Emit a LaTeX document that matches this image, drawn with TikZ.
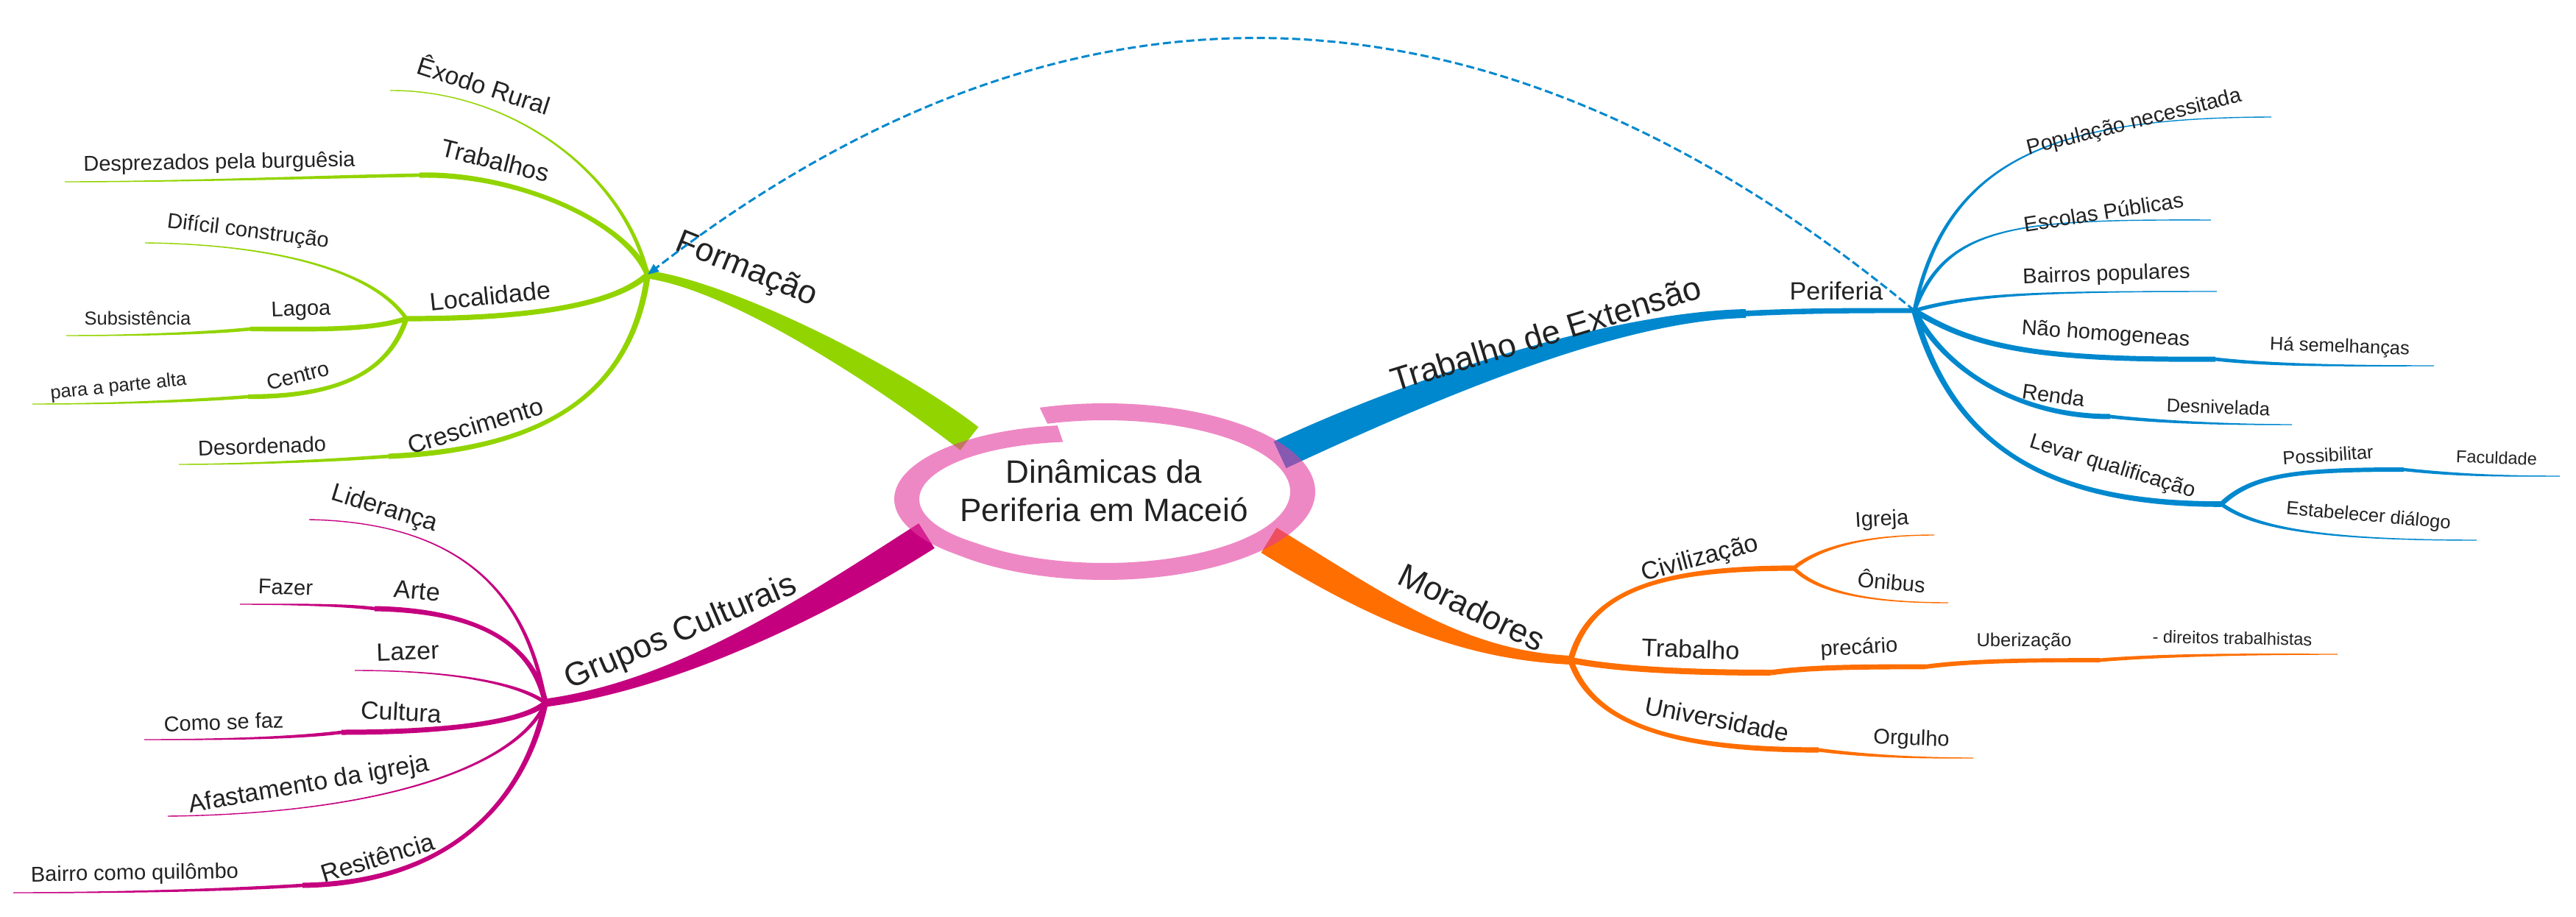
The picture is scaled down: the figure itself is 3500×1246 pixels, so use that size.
\documentclass[tikz,border=0pt]{standalone}
\usepackage{fontspec}
\setmainfont{Liberation Sans}
\usetikzlibrary{calc,arrows.meta}
\definecolor{cgreen}{RGB}{146,212,0}
\definecolor{cblue}{RGB}{0,136,206}
\definecolor{corange}{RGB}{255,110,0}
\definecolor{cmag}{RGB}{197,0,127}
\definecolor{cring}{RGB}{227,58,158}
\definecolor{ctext}{RGB}{34,34,34}
% tapered branch: start, control1, control2, end, half width start, half width end, colour
\newcommand{\brch}[7]{%
  \path ($(#1)!#5!90:(#2)$) coordinate (ba) ($(#1)!#5!-90:(#2)$) coordinate (bb)
        ($(#4)!#6!-90:(#3)$) coordinate (bc) ($(#4)!#6!90:(#3)$) coordinate (bd);
  \fill[#7] (ba) .. controls ($(#2)+(ba)-(#1)$) and ($(#3)+(bc)-(#4)$) .. (bc)
     -- (bd) .. controls ($(#3)+(bd)-(#4)$) and ($(#2)+(bb)-(#1)$) .. (bb) -- cycle;}
\begin{document}
\begin{tikzpicture}[x=1pt,y=-1pt,
  lab/.style={text=ctext, inner sep=0pt, anchor=center},
  L0/.style={lab, font=\fontsize{44}{52}\selectfont, align=center},
  L1/.style={lab, font=\fontsize{45}{50}\selectfont},
  L2/.style={lab, font=\fontsize{34}{40}\selectfont},
  L3/.style={lab, font=\fontsize{29}{34}\selectfont},
  L4/.style={lab, font=\fontsize{25.5}{30}\selectfont},
  L5/.style={lab, font=\fontsize{23.5}{28}\selectfont},
  relation/.style={cblue, line width=3pt, dash pattern=on 11pt off 5pt, -{Triangle[length=15pt,width=12pt]}}]
\useasboundingbox (0,0) rectangle (3500,1246);
\fill[white] (0,0) rectangle (3500,1246);
% ---------- junctions ----------
\coordinate (RF) at (1317,596);
\coordinate (JF) at (880,373);
\coordinate (FT) at (570,238);
\coordinate (JL) at (552,433);
\coordinate (FLa) at (340,447);
\coordinate (FCe) at (337,539);
\coordinate (FCr) at (528,620);
\coordinate (RB) at (1739,618);
\coordinate (BK) at (2372,426);
\coordinate (JP) at (2601,422);
\coordinate (BNH) at (3010,488);
\coordinate (BRe) at (2867,566);
\coordinate (JQ) at (3018,685);
\coordinate (BPo) at (3266,638);
\coordinate (RO) at (1724,734);
\coordinate (JM) at (2134,897);
\coordinate (JC) at (2437,772);
\coordinate (OT) at (2406,914);
\coordinate (OP) at (2616,906);
\coordinate (OU) at (2853,897);
\coordinate (OV) at (2471,1019);
\coordinate (RG) at (1259,728);
\coordinate (JG) at (741,955);
\coordinate (GA) at (509,827);
\coordinate (GC) at (464,995);
\coordinate (GR) at (411,1203);
% ---------- green: Formação ----------
\brch{RF}{1220,520}{1000,390}{JF}{20pt}{5.5pt}{cgreen}
\brch{JF}{845,230}{690,122}{530,123}{2.6pt}{0.7pt}{cgreen}
\brch{JF}{850,300}{700,235}{FT}{4pt}{3.6pt}{cgreen}
\brch{FT}{450,240}{250,247}{88,247}{2.4pt}{0.7pt}{cgreen}
\brch{JF}{840,410}{740,433}{JL}{4pt}{3.6pt}{cgreen}
\brch{JL}{510,370}{380,332}{197,330}{2.6pt}{0.7pt}{cgreen}
\brch{JL}{500,450}{420,447}{FLa}{3.4pt}{3.2pt}{cgreen}
\brch{FLa}{280,453}{180,456}{90,456}{2.3pt}{0.7pt}{cgreen}
\brch{JL}{530,500}{470,539}{FCe}{3.4pt}{3.2pt}{cgreen}
\brch{FCe}{260,545}{150,549}{44,549}{2.3pt}{0.7pt}{cgreen}
\brch{JF}{860,520}{760,610}{FCr}{4pt}{3.6pt}{cgreen}
\brch{FCr}{450,626}{330,631}{243,631}{2.4pt}{0.7pt}{cgreen}
% ---------- blue: Trabalho de Extensão ----------
\brch{RB}{1950,520}{2200,430}{BK}{20pt}{6pt}{cblue}
\brch{BK}{2450,422}{2520,422}{JP}{3.8pt}{3.4pt}{cblue}
\brch{JP}{2645,210}{2800,160}{3086,159}{2.6pt}{0.7pt}{cblue}
\brch{JP}{2645,305}{2740,298}{3004,299}{2.6pt}{0.7pt}{cblue}
\brch{JP}{2680,400}{2760,396}{3012,396}{2.6pt}{0.7pt}{cblue}
\brch{JP}{2680,470}{2760,490}{BNH}{3.8pt}{3.5pt}{cblue}
\brch{BNH}{3090,497}{3200,497}{3307,497}{2.4pt}{0.7pt}{cblue}
\brch{JP}{2640,500}{2740,566}{BRe}{3.8pt}{3.5pt}{cblue}
\brch{BRe}{2940,574}{3030,577}{3114,577}{2.4pt}{0.7pt}{cblue}
\brch{JP}{2655,620}{2800,685}{JQ}{4pt}{3.8pt}{cblue}
\brch{JQ}{3060,645}{3120,638}{BPo}{3.3pt}{3pt}{cblue}
\brch{BPo}{3340,646}{3400,647}{3478,647}{2.2pt}{0.7pt}{cblue}
\brch{JQ}{3060,715}{3140,734}{3365,734}{2.6pt}{0.7pt}{cblue}
% ---------- orange: Moradores ----------
\brch{RO}{1880,830}{1990,890}{JM}{20pt}{6pt}{corange}
\brch{JM}{2160,800}{2260,772}{JC}{4pt}{3.6pt}{corange}
\brch{JC}{2470,745}{2530,727}{2628,727}{2.6pt}{0.7pt}{corange}
\brch{JC}{2470,805}{2540,819}{2647,819}{2.6pt}{0.7pt}{corange}
\brch{JM}{2200,910}{2300,914}{OT}{4.2pt}{4pt}{corange}
\brch{OT}{2460,906}{2540,906}{OP}{3.6pt}{3.4pt}{corange}
\brch{OP}{2680,897}{2780,897}{OU}{3pt}{2.8pt}{corange}
\brch{OU}{2950,889}{3080,889}{3176,889}{2.4pt}{0.7pt}{corange}
\brch{JM}{2165,990}{2290,1019}{OV}{4pt}{3.6pt}{corange}
\brch{OV}{2540,1028}{2610,1030}{2681,1030}{2.4pt}{0.7pt}{corange}
% ---------- magenta: Grupos Culturais ----------
\brch{RG}{1130,810}{930,930}{JG}{20pt}{5.5pt}{cmag}
\brch{JG}{715,800}{620,710}{420,706}{2.6pt}{0.7pt}{cmag}
\brch{JG}{725,880}{660,830}{GA}{3.8pt}{3.5pt}{cmag}
\brch{GA}{470,822}{400,821}{326,821}{2.3pt}{0.7pt}{cmag}
\brch{JG}{715,935}{640,911}{482,911}{2.6pt}{0.7pt}{cmag}
\brch{JG}{720,975}{640,995}{GC}{3.8pt}{3.5pt}{cmag}
\brch{GC}{400,1003}{300,1005}{196,1005}{2.3pt}{0.7pt}{cmag}
\brch{JG}{710,1030}{550,1105}{228,1109}{2.6pt}{0.7pt}{cmag}
\brch{JG}{715,1080}{620,1200}{GR}{3.8pt}{3.5pt}{cmag}
\brch{GR}{300,1210}{150,1213}{18,1213}{2.3pt}{0.7pt}{cmag}
% ---------- central ring ----------
\fill[cring, fill opacity=0.6]
  plot[domain=108:-257, samples=160, variable=\t]
    ({1501+286*cos(\t)}, {668-120*sin(\t)+max(0,-134-(\t))*0.22})
  -- plot[domain=-257:108, samples=160, variable=\t]
    ({1501+252*cos(\t)}, {668-97*sin(\t)+max(0,-134-(\t))*0.22})
  -- cycle;
\node[L0] (center) at (1500,667) {Dinâmicas da\\Periferia em Maceió};
% ---------- labels: green ----------
\node[L1, rotate=-22] (formacao) at (1014,367) {Formação};
\node[L2, rotate=-18] (exodo) at (658,114) {Êxodo Rural};
\node[L2, rotate=-14] (trabalhos) at (673,218) {Trabalhos};
\node[L3, rotate=1] (desprezados) at (298,222) {Desprezados pela burguêsia};
\node[L2, rotate=6] (localidade) at (666,402) {Localidade};
\node[L3, rotate=-7] (dificil) at (337,315) {Difícil construção};
\node[L3, rotate=2] (lagoa) at (409,422) {Lagoa};
\node[L4] (subsistencia) at (187,432) {Subsistência};
\node[L3, rotate=14] (centro) at (405,510) {Centro};
\node[L4, rotate=6] (parteAlta) at (161,526) {para a parte alta};
\node[L2, rotate=17] (crescimento) at (646,578) {Crescimento};
\node[L3, rotate=2] (desordenado) at (356,606) {Desordenado};
% ---------- labels: blue ----------
\node[L1, rotate=17] (extensao) at (2100,453) {Trabalho de Extensão};
\node[L2] (periferia) at (2495,395) {Periferia};
\node[L3, rotate=14] (populacao) at (2900,167) {População necessitada};
\node[L3, rotate=9] (escolas) at (2858,288) {Escolas Públicas};
\node[L3, rotate=2] (bairros) at (2862,374) {Bairros populares};
\node[L3, rotate=-4] (naohomo) at (2861,455) {Não homogeneas};
\node[L4, rotate=-2] (semelhancas) at (3179,472) {Há semelhanças};
\node[L3, rotate=-8] (renda) at (2790,537) {Renda};
\node[L4, rotate=-2] (desnivelada) at (3014,553) {Desnivelada};
\node[L3, rotate=-17] (levar) at (2870,635) {Levar qualificação};
\node[L4, rotate=4] (possibilitar) at (3163,618) {Possibilitar};
\node[L5, rotate=-2] (faculdade) at (3392,622) {Faculdade};
\node[L4, rotate=-5] (dialogo) at (3218,702) {Estabelecer diálogo};
% ---------- labels: orange ----------
\node[L1, rotate=-26] (moradores) at (2000,825) {Moradores};
\node[L2, rotate=15] (civilizacao) at (2310,760) {Civilização};
\node[L3, rotate=3] (igreja) at (2557,707) {Igreja};
\node[L3, rotate=-5] (onibus) at (2570,789) {Ônibus};
\node[L2, rotate=-2] (trabalho) at (2297,882) {Trabalho};
\node[L3, rotate=3] (precario) at (2526,881) {precário};
\node[L4] (uberizacao) at (2750,872) {Uberização};
\node[L5, rotate=-1] (direitos) at (3033,867) {- direitos trabalhistas};
\node[L2, rotate=-11] (universidade) at (2333,977) {Universidade};
\node[L3, rotate=-2] (orgulho) at (2597,1005) {Orgulho};
% ---------- labels: magenta ----------
\node[L1, rotate=23] (grupos) at (925,860) {Grupos Culturais};
\node[L2, rotate=-17] (lideranca) at (522,692) {Liderança};
\node[L2, rotate=-5] (arte) at (567,803) {Arte};
\node[L3, rotate=-2] (fazer) at (388,798) {Fazer};
\node[L2, rotate=2] (lazer) at (554,885) {Lazer};
\node[L2, rotate=-3] (cultura) at (545,967) {Cultura};
\node[L3, rotate=2] (comofaz) at (304,981) {Como se faz};
\node[L2, rotate=10] (afastamento) at (420,1067) {Afastamento da igreja};
\node[L2, rotate=17] (resistencia) at (513,1165) {Resitência};
\node[L3, rotate=1] (quilombo) at (183,1188) {Bairro como quilômbo};
% ---------- relation ----------
\draw[relation] (JP) .. controls (2027,-53) and (1453,-70) .. (JF);
\end{tikzpicture}
\end{document}
